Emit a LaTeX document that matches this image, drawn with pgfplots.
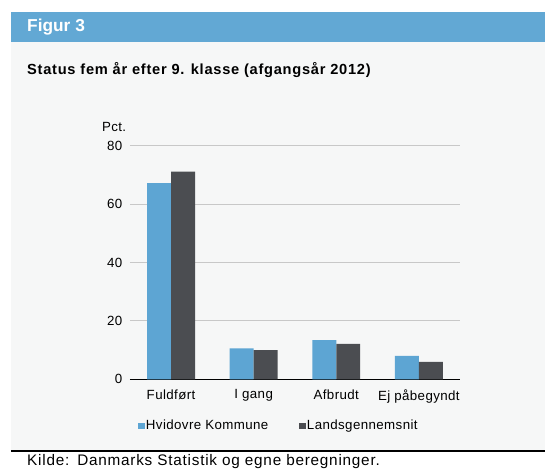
\documentclass[border=0pt]{standalone}
\usepackage{pgfplots}
\pgfplotsset{compat=1.18}
\usepackage{fontspec}
\setmainfont{Liberation Sans}
\definecolor{headblue}{HTML}{62A8D4}
\definecolor{panel}{HTML}{F6F7F7}
\definecolor{cblue}{HTML}{5DA5D3}
\definecolor{cdark}{HTML}{4B4D51}
\definecolor{gridc}{HTML}{C8C8C8}
\newcommand{\lbl}{\fontsize{10}{11}\selectfont\addfontfeatures{LetterSpace=3}}
\begin{document}
\begin{tikzpicture}
\begin{scope}[x=0.75pt,y=0.75pt]
\fill[white] (0,0) rectangle (546,474);
\fill[panel] (11,22) rectangle (546,432);
\fill[headblue] (11,432) rectangle (546,462);
\draw[black,line width=1.5pt] (11,22) -- (546,22);
\node[anchor=west,inner sep=0,text=white,font=\bfseries\fontsize{13}{14}\selectfont] at (27,447) {Figur 3};
\node[anchor=west,inner sep=0,font=\bfseries\fontsize{11}{13}\selectfont\addfontfeatures{LetterSpace=5}] at (27,404) {Status fem år efter 9. klasse (afgangsår 2012)};
\node[anchor=west,inner sep=0,font=\lbl] at (102,347) {Pct.};
\node[anchor=west,inner sep=0,font=\fontsize{11.5}{12}\selectfont\addfontfeatures{LetterSpace=5}] at (27,12) {Kilde:\hspace{6pt}Danmarks Statistik og egne beregninger.};
\end{scope}
\begin{axis}[
  at={(97.5pt,70.5pt)}, anchor=south west,
  scale only axis, width=248.25pt, height=175.5pt,
  xmin=-0.5, xmax=3.5, ymin=0, ymax=80,
  ybar=0pt, bar width=18pt,
  axis x line*=bottom, axis y line*=left,
  y axis line style={draw=none},
  x axis line style={black,line width=1pt,-},
  ytick={0,20,40,60,80},
  ytick style={draw=none},
  ymajorgrids, grid style={gridc,line width=0.8pt},
  xtick={0,1,2,3},
  xticklabels={Fuldført,I gang,Afbrudt,Ej påbegyndt},
  xtick style={draw=none},
  extra x ticks={-0.5,0.5,1.5,2.5,3.5},
  extra x tick labels={},
  extra x tick style={grid=none,tick style={draw=black,line width=0.6pt},major tick length=3pt,tick align=outside},
  tick label style={font=\lbl},
  /pgf/number format/assume math mode=true,
  yticklabel style={xshift=-2pt},
  legend style={at={(0.024,-0.2)},anchor=west,draw=none,fill=none,
    legend columns=2,font=\lbl,
    /tikz/every even column/.append style={column sep=22pt},
    inner sep=0pt, nodes={inner sep=1pt}},
  legend image code/.code={\fill[#1,draw=none] (0pt,-2.5pt) rectangle (5pt,2.5pt);},
  legend cell align=left,
]
\addplot[fill=cblue,draw=none] coordinates {(0,67.2) (1,10.6) (2,13.4) (3,8.0)};
\addplot[fill=cdark,draw=none] coordinates {(0,71.1) (1,10.0) (2,12.1) (3,6.0)};
\legend{Hvidovre Kommune,Landsgennemsnit}
\end{axis}
\end{tikzpicture}
\end{document}
